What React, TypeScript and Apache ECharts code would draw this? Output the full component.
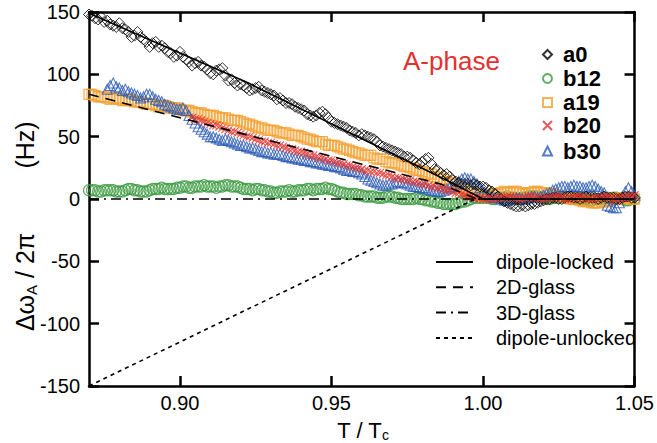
import React, { useEffect, useRef } from 'react';
import * as echarts from 'echarts';

// Reduced temperature grid T/Tc (main points)
const T = [
  0.870, 0.872, 0.874, 0.876, 0.878, 0.880, 0.882, 0.884, 0.886, 0.888,
  0.890, 0.892, 0.894, 0.896, 0.898, 0.900, 0.902, 0.904, 0.906, 0.908,
  0.910, 0.912, 0.914, 0.916, 0.918, 0.920, 0.922, 0.924, 0.926, 0.928,
  0.930, 0.932, 0.934, 0.936, 0.938, 0.940, 0.942, 0.944, 0.946, 0.948,
  0.950, 0.952, 0.954, 0.956, 0.958, 0.960, 0.962, 0.964, 0.966, 0.968,
  0.970, 0.972, 0.974, 0.976, 0.978, 0.980, 0.982, 0.984, 0.986, 0.988,
  0.990, 0.992, 0.994, 0.996, 0.998, 1.000, 1.002, 1.004, 1.006, 1.008,
  1.010, 1.012, 1.014, 1.016, 1.018, 1.020, 1.022, 1.024, 1.026, 1.028,
  1.030, 1.032, 1.034, 1.036, 1.038, 1.040, 1.042, 1.044, 1.046, 1.048, 1.050,
];

// Intermediate temperatures (points between the main ones)
const T_MID = [
  0.871, 0.873, 0.875, 0.877, 0.879, 0.881, 0.883, 0.885, 0.887, 0.889,
  0.891, 0.893, 0.895, 0.897, 0.899, 0.901, 0.903, 0.905, 0.907, 0.909,
  0.911, 0.913, 0.915, 0.917, 0.919, 0.921, 0.923, 0.925, 0.927, 0.929,
  0.931, 0.933, 0.935, 0.937, 0.939, 0.941, 0.943, 0.945, 0.947, 0.949,
  0.951, 0.953, 0.955, 0.957, 0.959, 0.961, 0.963, 0.965, 0.967, 0.969,
  0.971, 0.973, 0.975, 0.977, 0.979, 0.981, 0.983, 0.985, 0.987, 0.989,
  0.991, 0.993, 0.995, 0.997, 0.999, 1.001, 1.003, 1.005, 1.007, 1.009,
  1.011, 1.013, 1.015, 1.017, 1.019, 1.021, 1.023, 1.025, 1.027, 1.029,
  1.031, 1.033, 1.035, 1.037, 1.039, 1.041, 1.043, 1.045, 1.047, 1.049,
];

const A0 = [
  148, 145, 146, 143, 139, 141, 136, 130, 134, 128,
  122, 126, 123, 118, 114, 118, 112, 107, 110, 106,
  101, 103, 105, 95, 93, 92, 89, 88, 90, 86,
  84, 80, 79, 77, 74, 72, 68, 66, 69, 68,
  62, 60, 58, 55, 53, 52, 50, 48, 43, 41,
  39, 37, 34, 33, 29, 30, 33, 24, 21, 20,
  15, 13, 12, 11, 11, 10, 7, 4, 0, -3,
  -5, -6, -6, -4, -3, -1, 0, 1, 0, 2,
  1, 0, 2, 1, 0, 2, 1, 0, 1, 2, 1,
];
const A0_MID = [
  147, 144, 142, 140, 138, 137, 134, 131, 130, 126,
  125, 122, 121, 117, 115, 114, 110, 109, 107, 104,
  100, 104, 99, 96, 91, 91, 87, 89, 87, 85,
  83, 81, 77, 76, 73, 71, 67, 67, 70, 65,
  61, 59, 57, 54, 51, 51, 49, 46, 42, 40,
  38, 36, 34, 31, 28, 32, 28, 23, 19, 18,
  14, 12, 12, 12, 10, 9, 6, 2, -2, -4,
  -6, -5, -5, -4, -2, 0, 1, 0, 1, 2,
  1, 1, 1, 1, 1, 1, 1, 0, 2, 1,
];

const B12 = [
  7, 7, 6, 7, 7, 6, 7, 8, 7, 6,
  7, 8, 9, 8, 8, 9, 10, 9, 10, 11,
  10, 9, 10, 11, 10, 9, 8, 7, 8, 7,
  6, 5, 6, 7, 6, 7, 8, 7, 8, 9,
  8, 6, 5, 4, 4, 3, 2, 2, 1, 2,
  2, 1, 0, 0, 1, 0, -1, -2, -3, -4,
  -4, -3, -2, 0, 1, 1, 1, 0, 1, 2,
  1, 0, 1, 2, 2, 1, 0, 1, 2, 1,
  0, 1, 0, -1, 0, 1, 0, 1, 0, -1, 0,
];
const B12_MID = [
  7, 6, 7, 7, 6, 6, 8, 7, 6, 6,
  8, 8, 8, 8, 9, 10, 9, 10, 10, 10,
  10, 10, 11, 10, 10, 8, 8, 8, 7, 6,
  5, 6, 6, 6, 7, 7, 8, 8, 8, 8,
  7, 5, 4, 4, 3, 2, 2, 1, 1, 2,
  1, 0, 0, 0, 0, -1, -2, -3, -4, -4,
  -4, -2, -1, 1, 1, 1, 0, 1, 1, 1,
  0, 1, 2, 2, 1, 0, 1, 1, 1, 0,
  1, 0, -1, 0, 0, 1, 1, 0, -1, 0,
];

const A19 = [
  84, 83, 82, 81, 81, 80, 79, 79, 78, 77,
  76, 75, 75, 74, 73, 72, 71, 70, 69, 68,
  67, 66, 65, 64, 63, 62, 60, 59, 57, 56,
  55, 54, 53, 52, 51, 50, 48, 47, 46, 44,
  43, 42, 40, 39, 37, 36, 35, 33, 32, 30,
  29, 28, 26, 25, 23, 22, 20, 18, 16, 14,
  12, 10, 8, 6, 4, 2, 3, 4, 5, 5,
  6, 5, 4, 5, 6, 5, 4, 3, 2, 1,
  0, -1, -2, -3, -3, -2, -1, 0, 1, 1, 0,
];
const A19_MID = [
  84, 82, 82, 80, 81, 79, 80, 78, 78, 76,
  76, 74, 75, 73, 73, 71, 71, 69, 69, 67,
  67, 65, 65, 63, 63, 61, 60, 58, 57, 55,
  55, 53, 53, 51, 51, 49, 48, 46, 46, 43,
  43, 41, 40, 38, 37, 35, 35, 32, 32, 29,
  29, 27, 26, 24, 23, 21, 20, 17, 16, 13,
  12, 9, 8, 5, 3, 3, 4, 4, 6, 5,
  6, 4, 5, 6, 5, 5, 4, 2, 2, 0,
  0, -2, -2, -3, -2, -2, 0, 0, 1, 0,
];

const B20 = [
  null, null, null, null, null, null, null, null, null, null,
  null, null, null, null, null, null, null, 65, 64, 62,
  60, 59, 57, 55, 54, 52, 50, 49, 47, 46,
  45, 43, 42, 40, 39, 38, 36, 35, 33, 32,
  31, 29, 28, 27, 25, 24, 23, 22, 21, 19,
  18, 17, 16, 15, 14, 12, 11, 10, 9, 7,
  6, 5, 3, 2, 1, 0, 1, 0, 1, 2,
  1, 0, 1, 2, 1, 0, 1, 2, 1, 0,
  1, 2, 1, 0, 1, 2, 1, 0, 1, 2, 3,
];
const B20_MID = [
  null, null, null, null, null, null, null, null, null, null,
  null, null, null, null, null, null, null, 64, 63, 61,
  59, 58, 56, 54, 53, 51, 50, 48, 46, 45,
  44, 43, 41, 40, 38, 37, 35, 34, 33, 31,
  30, 29, 27, 26, 25, 23, 22, 21, 20, 19,
  17, 16, 15, 14, 13, 12, 10, 9, 8, 7,
  5, 4, 2, 1, 1, 0, 0, 1, 1, 2,
  1, 0, 2, 1, 0, 1, 1, 2, 0, 1,
  2, 1, 0, 1, 1, 2, 0, 1, 1, 2,
];

const B30 = [
  null, null, null, 88, 93, 89, 88, 85, 83, 82,
  84, 80, 78, 75, 73, 72, 71, 64, 58, 54,
  50, 49, 47, 47, 45, 43, 42, 41, 39, 38,
  37, 36, 35, 34, 33, 32, 31, 30, 29, 28,
  27, 26, 24, 23, 22, 20, 16, 14, 12, 11,
  12, 14, 13, 11, 10, 9, 8, 7, 6, 8,
  10, 14, 17, 16, 12, 6, 3, 1, 0, -1,
  0, 1, 0, 2, 1, 3, 5, 8, 10, 9,
  11, 10, 9, 11, 8, 5, -6, -7, 2, 9, 3,
];
const B30_MID = [
  null, null, null, 91, 90, 87, 86, 84, 81, 84,
  82, 79, 76, 74, 72, 73, 67, 61, 56, 52,
  50, 48, 48, 46, 44, 43, 41, 40, 38, 37,
  36, 36, 34, 33, 32, 31, 30, 29, 28, 27,
  26, 25, 23, 22, 21, 18, 15, 13, 11, 12,
  13, 13, 12, 10, 9, 9, 7, 6, 7, 9,
  12, 16, 16, 14, 9, 4, 2, 1, -1, 0,
  1, 0, 1, 2, 2, 4, 7, 9, 10, 10,
  10, 9, 10, 10, 6, -5, -7, -3, 6, 6,
];

// Model curves [T/Tc, Hz]
const DIPOLE_LOCKED = [[0.87, 149], [0.9226, 93], [0.988, 15], [1.0, 0], [1.05, 0]];
const GLASS_2D = [[0.87, 84], [0.926, 49], [0.986, 12], [0.998, 0], [1.05, 0]];
const GLASS_3D = [[0.87, 0], [1.05, 0]];
const DIPOLE_UNLOCKED = [[0.87, -150], [0.9975, 0], [1.05, 0]];

const X_TICKS = [0.9, 0.95, 1.0, 1.05];
const MARKER_LEGEND = ['a0', 'b12', 'a19', 'b20', 'b30'];
const LINE_LEGEND = ['dipole-locked', '2D-glass', '3D-glass', 'dipole-unlocked'];

const FONT = 'Liberation Sans, Arial, Helvetica, sans-serif';
const NB = '\u00A0';

const pts = (ts: number[], vals: (number | null)[]) =>
  ts.map((t, i) => (vals[i] == null ? null : [t, vals[i] as number])).filter((p) => p !== null);

export default function App() {
  const ref = useRef<HTMLDivElement>(null);

  useEffect(() => {
    const chart = echarts.init(ref.current!, null, { renderer: 'svg' });

    const scatter = (
      name: string,
      vals: (number | null)[],
      mid: (number | null)[],
      symbol: string,
      size: number,
      color: string,
      bw: number,
    ) => ({
      type: 'scatter',
      name,
      data: pts(T, vals).concat(pts(T_MID, mid)),
      symbol,
      symbolSize: size,
      silent: true,
      z: 2,
      itemStyle: { color: 'rgba(0,0,0,0)', borderColor: color, borderWidth: bw },
    });

    const line = (name: string, data: number[][], type: any) => ({
      type: 'line',
      name,
      data,
      symbol: 'none',
      silent: true,
      z: 5,
      lineStyle: { color: '#000', width: 1.6, type },
      itemStyle: { color: '#000' },
    });

    const axisCommon = {
      axisLine: { show: true, onZero: false, lineStyle: { color: '#000', width: 2.5 } },
      axisTick: { show: true, inside: true, length: 10, lineStyle: { color: '#000', width: 2.5 } },
      splitLine: { show: false },
    };

    const markerLegends = MARKER_LEGEND.map((name, i) => ({
      data: [name],
      orient: 'vertical',
      left: 542,
      top: [43.5, 67.5, 91.5, 114.5, 140][i],
      padding: 0,
      itemWidth: 9,
      itemHeight: 9,
      selectedMode: false,
      textStyle: { fontSize: 22, fontWeight: 'bold', fontFamily: FONT, color: '#000', padding: [0, 0, 0, 6] },
    }));

    const option: any = {
      animation: false,
      backgroundColor: '#fff',
      grid: { left: 89, right: 16, top: 12, bottom: 57, containLabel: false },
      xAxis: [
        {
          type: 'value',
          min: 0.87,
          max: 1.05,
          position: 'bottom',
          ...axisCommon,
          axisTick: { ...axisCommon.axisTick, customValues: X_TICKS },
          axisLabel: {
            customValues: X_TICKS,
            formatter: (v: number) => v.toFixed(2),
            fontSize: 20,
            fontFamily: FONT,
            color: '#000',
            margin: 7,
          },
        },
        {
          type: 'value',
          min: 0.87,
          max: 1.05,
          position: 'top',
          ...axisCommon,
          axisTick: { ...axisCommon.axisTick, customValues: X_TICKS },
          axisLabel: { show: false },
        },
      ],
      yAxis: [
        {
          type: 'value',
          min: -150,
          max: 150,
          interval: 50,
          position: 'left',
          ...axisCommon,
          axisLabel: { fontSize: 20, fontFamily: FONT, color: '#000', margin: 9 },
        },
        {
          type: 'value',
          min: -150,
          max: 150,
          interval: 50,
          position: 'right',
          ...axisCommon,
          axisLabel: { show: false },
        },
      ],
      legend: [
        ...markerLegends,
        {
          data: LINE_LEGEND,
          orient: 'vertical',
          left: 435,
          top: 252,
          padding: 0,
          itemWidth: 37,
          itemHeight: 14,
          itemGap: 5.3,
          selectedMode: false,
          itemStyle: { color: 'rgba(0,0,0,0)', borderColor: 'rgba(0,0,0,0)', borderWidth: 0, opacity: 0 },
          textStyle: { fontSize: 20, fontFamily: FONT, color: '#000', padding: [0, 0, 0, 18] },
        },
      ],
      graphic: [
        {
          type: 'text',
          x: 403,
          y: 61,
          silent: true,
          style: { text: 'A-phase', fontSize: 26, fontFamily: FONT, fill: '#e2312f', align: 'left', verticalAlign: 'middle' },
        },
        {
          type: 'text',
          x: 363,
          y: 430,
          silent: true,
          style: {
            text: '{t|T / T}{s|c}',
            align: 'center',
            verticalAlign: 'middle',
            rich: {
              t: { fontSize: 22, fontFamily: FONT, fill: '#000', lineHeight: 24 },
              s: { fontSize: 14, fontFamily: FONT, fill: '#000', lineHeight: 12, verticalAlign: 'bottom' },
            },
          },
        },
        {
          type: 'text',
          x: 25,
          y: 282,
          rotation: Math.PI / 2,
          silent: true,
          style: {
            text: '{m|Δω}{s|A}{m|' + NB + '/' + NB + '2π}',
            align: 'center',
            verticalAlign: 'middle',
            rich: {
              m: { fontSize: 25, fontFamily: FONT, fill: '#000', lineHeight: 28 },
              s: { fontSize: 15, fontFamily: FONT, fill: '#000', lineHeight: 14, verticalAlign: 'bottom' },
            },
          },
        },
        {
          type: 'text',
          x: 25,
          y: 145,
          rotation: Math.PI / 2,
          silent: true,
          style: {
            text: '(Hz)',
            fontSize: 25,
            fontFamily: FONT,
            fill: '#000',
            align: 'center',
            verticalAlign: 'middle',
          },
        },
      ],
      series: [
        scatter('b12', B12, B12_MID, 'circle', 11, '#3a9a3f', 1.2),
        scatter('a19', A19, A19_MID, 'rect', 10, '#f5a030', 1.3),
        scatter('b30', B30, B30_MID, 'triangle', 10, '#2a5bb5', 1.1),
        scatter('a0', A0, A0_MID, 'diamond', 11, '#000000', 1),
        scatter('b20', B20, B20_MID, 'path://M0,0L10,10M10,0L0,10', 8, '#e3312d', 1.1),
        line('dipole-locked', DIPOLE_LOCKED, 'solid'),
        line('2D-glass', GLASS_2D, [10, 7]),
        line('3D-glass', GLASS_3D, [10, 5, 2, 5]),
        line('dipole-unlocked', DIPOLE_UNLOCKED, [4, 4]),
      ],
    };

    chart.setOption(option);
    return () => chart.dispose();
  }, []);

  return (
    <div
      ref={ref}
      style={{ position: 'absolute', left: 0, top: 0, width: 657, height: 443, background: '#fff' }}
    />
  );
}
